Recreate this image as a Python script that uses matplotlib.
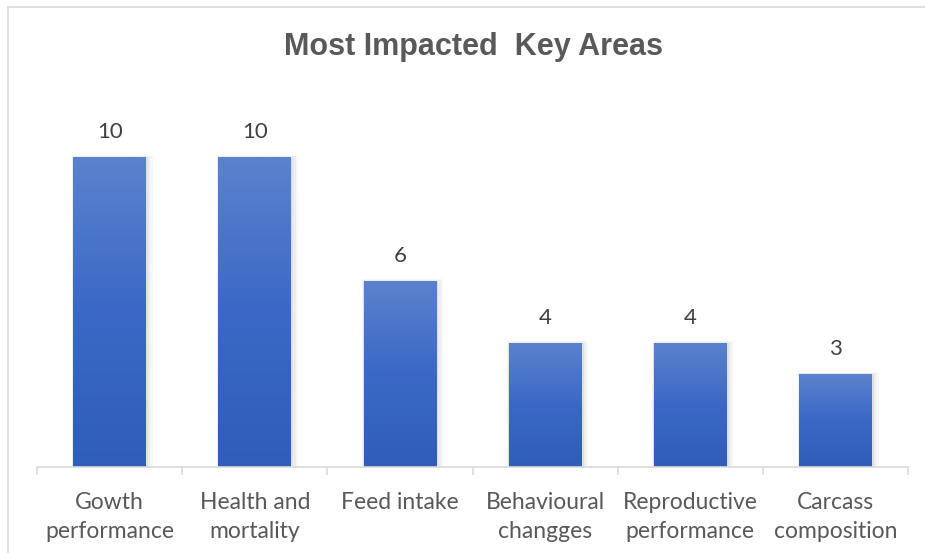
import numpy as np
import matplotlib.pyplot as plt
from matplotlib.colors import LinearSegmentedColormap
from matplotlib.patches import Rectangle

categories = ['Gowth\nperformance', 'Health and\nmortality', 'Feed intake',
              'Behavioural\nchangges', 'Reproductive\nperformance', 'Carcass\ncomposition']
counts = [10, 10, 6, 4, 4, 3]

W, H = 925, 553
fig = plt.figure(figsize=(W / 100, H / 100), dpi=100)
fig.patch.set_facecolor('white')

# outer chart frame (light gray, runs off the right/bottom edge)
fig.add_artist(plt.Line2D([8 / W, 8 / W], [0, 1 - 7 / H], color='#d9d9d9', lw=1.2))
fig.add_artist(plt.Line2D([8 / W, 1], [1 - 7 / H, 1 - 7 / H], color='#d9d9d9', lw=1.2))

ax = fig.add_axes([37 / W, 1 - 467 / H, 871 / W, 340 / H])
ax.set_xlim(-0.5, len(categories) - 0.5)
ax.set_ylim(0, 11)

grad = LinearSegmentedColormap.from_list('g', ['#2f5eb9', '#3a68c6', '#5b82cd'])
img = np.linspace(0, 1, 256).reshape(-1, 1)
bw = 0.5
for i, v in enumerate(counts):
    # soft shadow
    for k, a in enumerate([0.05, 0.04, 0.03]):
        d = 0.012 * (k + 1)
        ax.add_patch(Rectangle((i - bw / 2 - d * 0.3, 0), bw + d * 1.6, v + d * 2,
                               color='black', alpha=a, lw=0, zorder=1))
    ax.imshow(img, cmap=grad, origin='lower', aspect='auto',
              extent=(i - bw / 2, i + bw / 2, 0, v), zorder=2)
    ax.text(i, v + 0.5, str(v), ha='center', va='bottom', fontsize=16,
            color='#404040', family='Lato')

for s in ['left', 'right', 'top']:
    ax.spines[s].set_visible(False)
ax.spines['bottom'].set_color('#d9d9d9')
ax.spines['bottom'].set_linewidth(1.2)
ax.set_yticks([])
ax.set_xticks(np.arange(len(categories)))
ax.set_xticklabels(categories, fontsize=16.5, color='#595959', family='Lato',
                   linespacing=1.5)
ax.tick_params(axis='x', length=0, pad=18)
ax.set_xticks(np.arange(-0.5, len(categories)), minor=True)
ax.tick_params(axis='x', which='minor', length=6, color='#d9d9d9', width=1.2)

fig.text(474 / W, 1 - 47 / H, 'Most Impacted  Key Areas', ha='center', va='center',
         fontsize=22, fontweight='bold', color='#595959', family='Liberation Sans')

fig.savefig('out.png', dpi=100)
